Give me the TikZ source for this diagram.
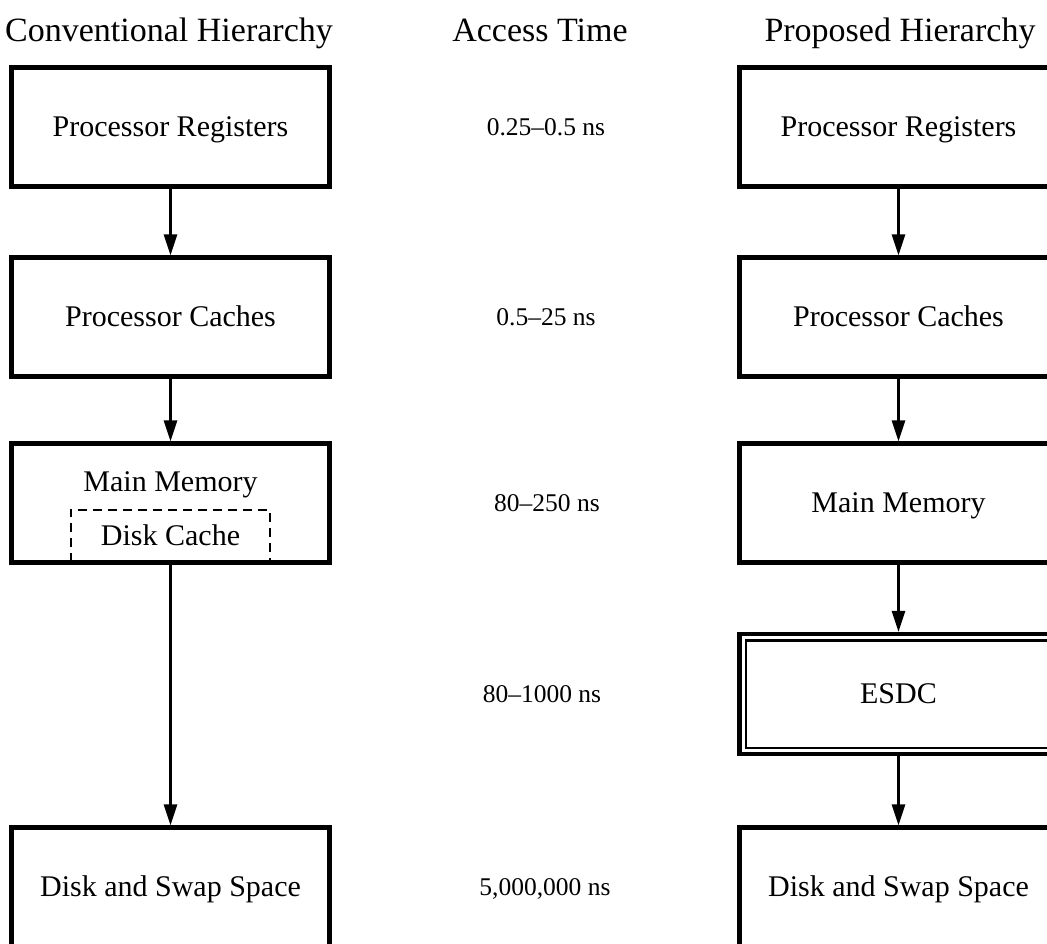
\documentclass[tikz,border=0pt]{standalone}
\usepackage{fontspec}
\setmainfont{Liberation Serif}
\usetikzlibrary{arrows.meta}

\tikzset{
  captext/.style={inner sep=0pt, text depth=0pt},
  level/.style={captext, text height=19.8pt, draw, line width=4.2pt,
                minimum width=318pt, minimum height=119pt,
                font=\fontsize{30}{36}\selectfont},
  plain/.style={captext, text height=19.8pt, font=\fontsize{30}{36}\selectfont},
  head/.style={captext, text height=22.4pt, font=\fontsize{34}{40}\selectfont},
  timelabel/.style={captext, text height=16.8pt, font=\fontsize{25.5}{30}\selectfont},
  link/.style={line width=2.6pt, -{Triangle[length=21pt,width=13pt]}},
  cachebox/.style={line width=2.4pt, dash pattern=on 9pt off 6pt},
}

\begin{document}
\begin{tikzpicture}[x=1pt,y=-1pt]
\useasboundingbox (0,0) rectangle (1047,943);
\clip (0,0) rectangle (1047,943);

% column headings
\node[head] (hconv) at (169,30) {Conventional Hierarchy};
\node[head] (htime) at (540,30) {Access Time};
\node[head] (hprop) at (900,30) {Proposed Hierarchy};

% conventional hierarchy
\node[level] (creg)  at (170.5,127) {Processor Registers};
\node[level] (ccach) at (170.5,317) {Processor Caches};
\node[level] (cmain) at (170.5,503) {};
\node[plain] (cmaintxt) at (170.5,482) {Main Memory};
\node[plain, minimum width=199pt, minimum height=52pt] (cdisk) at (170.5,536) {Disk Cache};
\draw[cachebox] (cdisk.south west) -- (cdisk.north west) -- (cdisk.north east) -- (cdisk.south east);
\node[level] (cswap) at (170.5,887) {Disk and Swap Space};

\draw[link] (creg) -- (ccach);
\draw[link] (ccach) -- (cmain);
\draw[link] (cmain) -- (cswap);

% access times
\node[timelabel] (t1) at (546,127) {0.25--0.5 ns};
\node[timelabel] (t2) at (546,317) {0.5--25 ns};
\node[timelabel] (t3) at (547,503) {80--250 ns};
\node[timelabel] (t4) at (542,694) {80--1000 ns};
\node[timelabel] (t5) at (545,887) {5,000,000 ns};

% proposed hierarchy
\node[level] (preg)  at (898.5,127) {Processor Registers};
\node[level] (pcach) at (898.5,317) {Processor Caches};
\node[level] (pmain) at (898.5,503) {Main Memory};
\node[level, minimum height=120pt] (pesdc) at (898.5,694) {ESDC};
\draw[line width=2.2pt] ([xshift=8.5pt,yshift=-8.5pt]pesdc.north west) rectangle ([xshift=-8.5pt,yshift=8.5pt]pesdc.south east);
\node[level] (pswap) at (898.5,887) {Disk and Swap Space};

\draw[link] (preg) -- (pcach);
\draw[link] (pcach) -- (pmain);
\draw[link] (pmain) -- (pesdc);
\draw[link] (pesdc) -- (pswap);
\end{tikzpicture}
\end{document}
